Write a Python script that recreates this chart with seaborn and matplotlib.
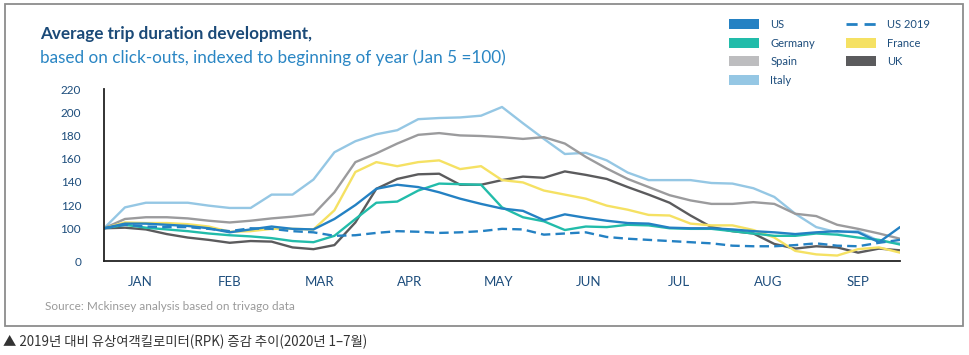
import numpy as np
import pandas as pd
import seaborn as sns
from matplotlib import pyplot as plt
from matplotlib.patches import Patch, Rectangle
from matplotlib.lines import Line2D

# weekly samples, days since Jan 5 (index = 100 on Jan 5)
days = [7 * i for i in range(39)]

us = [100, 104, 104, 103, 102, 100, 96.5, 99, 101.5, 99.5,
      99, 108, 120, 134, 137.5, 135.5, 131, 125.5, 121, 117,
      115, 107, 112, 109, 106.5, 104.5, 104, 100.5, 100, 100,
      99, 97.5, 96.5, 95, 96.5, 97.5, 96.5, 88, 101]
germany = [100, 103, 100.5, 99, 97.5, 95.5, 94, 93, 91.5, 89,
           88, 93.5, 108, 122, 123, 132.5, 138.5, 138, 137.5, 118,
           109.5, 106, 98.5, 101.5, 101, 103, 102.5, 100, 99.5, 99.5,
           97.5, 95.5, 93.5, 93.5, 95.5, 94.5, 92, 90, 86]
spain = [100, 108, 109.5, 109.5, 108.5, 106.5, 105, 106.5, 108.5, 110,
         112, 131, 157, 164.5, 173, 180.5, 182, 180, 179.5, 178.5,
         177, 178.5, 173, 161.5, 151.5, 142.5, 135.5, 128.5, 124, 121,
         121, 122.5, 121, 112.5, 110.5, 103, 99.5, 95.5, 91]
italy = [100, 118, 122, 122, 122, 119.5, 117.5, 117.5, 129, 129,
         142, 165.5, 175, 181, 184.5, 194, 195, 195.5, 197, 204.5,
         190.5, 177, 164, 165, 158.5, 148, 141.5, 141.5, 141.5, 139,
         138.5, 134.5, 127, 112.5, 101, 96.5, 97.5, 89, 87]
france = [100, 105, 104.5, 104.5, 103.5, 101.5, 97, 97.5, 99.5, 99.5,
          99, 115.5, 148.5, 157, 153.5, 157, 158.5, 151, 153.5, 141.5,
          139.5, 132.5, 129, 125.5, 119.5, 116, 111.5, 111, 104, 102.5,
          102.5, 98.5, 92, 80.5, 77.5, 76.5, 82, 83.5, 79]
uk = [100, 100.5, 99, 95, 92, 90, 87.5, 89, 88.5, 83.5,
      82, 85.5, 105, 134, 142.5, 146.5, 147, 137.5, 137.5, 141.5,
      144.5, 143.5, 149, 146, 142.5, 135.5, 129, 122, 111, 101,
      97.5, 95.5, 86.5, 82.5, 84.5, 83.5, 79, 82.5, 81]
us_2019 = [100, 103, 101.5, 101, 101, 99.5, 97.5, 100, 99.5, 97.5,
           96.5, 93.5, 94, 96, 97.5, 97, 96, 96.5, 97.5, 99.5,
           99, 94.5, 95.5, 96.5, 92.5, 91, 90, 89, 88, 87,
           85, 84.5, 84.5, 85.5, 87, 85, 84.5, 87.5, 90]

months = ["JAN", "FEB", "MAR", "APR", "MAY", "JUN", "JUL", "AUG", "SEP"]
ytick_vals = [71.8, 100, 120, 140, 160, 180, 200, 220]
ytick_lbls = ["0", "100", "120", "140", "160", "180", "200", "220"]

series = {"US": us, "Germany": germany, "Spain": spain, "Italy": italy,
          "US 2019": us_2019, "France": france, "UK": uk}
colors = {"US": "#2481c3", "Germany": "#22bcaa", "Spain": "#9b9b9d",
          "Italy": "#95c7e4", "US 2019": "#2481c3", "France": "#f5e163",
          "UK": "#5b5b5d"}
legend_colors = dict(colors, Spain="#bdbdbf")

df = pd.concat([pd.DataFrame({"day": days, "value": v, "country": k})
                for k, v in series.items()], ignore_index=True)

sns.set_theme(style="white")
plt.rcParams['font.family'] = ['Lato', 'DejaVu Sans']

navy = "#1d4d7c"
fig = plt.figure(figsize=(9.7, 3.55), dpi=100)
ax = fig.add_axes([104 / 970, 1 - 261 / 355, (900 - 104) / 970, (261 - 89) / 355])

dashes = {k: (4, 2.2) if k == "US 2019" else "" for k in series}
order = ["Italy", "Spain", "UK", "France", "Germany", "US 2019", "US"]
sns.lineplot(data=df, x="day", y="value", hue="country", style="country",
             hue_order=order, style_order=order, palette=colors,
             dashes=dashes, linewidth=1.7, legend=False, ax=ax)

ax.set_xlim(0, 266)
ax.set_ylim(71.8, 220)
ax.set_xticks([12 + 30 * i for i in range(len(months))])
ax.set_xticklabels(months, family=['Liberation Sans Narrow', 'Lato'],
                   fontsize=9.5, color=navy)
ax.set_yticks(ytick_vals)
ax.set_yticklabels(ytick_lbls, fontsize=8.5, color=navy)
ax.tick_params(axis='x', length=0, pad=10.5)
ax.tick_params(axis='y', length=0, pad=16.5)
ax.set_xlabel("")
ax.set_ylabel("")
for s in ["top", "right"]:
    ax.spines[s].set_visible(False)
for s in ["left", "bottom"]:
    ax.spines[s].set_color("#222222")
    ax.spines[s].set_linewidth(1.3)

# titles
fig.text(40 / 970, 1 - 34 / 355, "Average trip duration development,",
         fontsize=12.3, fontweight='bold', color="#1b4a78", va='center')
fig.text(40 / 970, 1 - 58 / 355,
         "based on click-outs, indexed to beginning of year (Jan 5 =100)",
         fontsize=12.3, color="#2a86c4", va='center')

# legend
leg_order = ["US", "Germany", "Spain", "Italy", "US 2019", "France", "UK"]
handles = []
for k in leg_order:
    if k == "US 2019":
        handles.append(Line2D([], [], color=colors[k], lw=2, dashes=(4, 2.5)))
    else:
        handles.append(Patch(facecolor=legend_colors[k], edgecolor='none'))
leg = fig.legend(handles, leg_order, loc='upper left', ncol=2,
                 bbox_to_anchor=(729 / 970, 1 - 19 / 355), frameon=False,
                 fontsize=8, handlelength=2.7, handleheight=1.05,
                 handletextpad=1.0, labelspacing=0.68, columnspacing=2.8,
                 borderpad=0, borderaxespad=0)
for t in leg.get_texts():
    t.set_color(navy)

fig.text(45 / 970, 1 - 306 / 355,
         "Source: Mckinsey analysis based on trivago data",
         fontsize=8.5, color="#9a9a9a", va='center')

# outer frame
fig.patches.append(Rectangle((5 / 970, 1 - 326 / 355), 958 / 970, 322 / 355,
                             transform=fig.transFigure, fill=False,
                             edgecolor="#8c8c8c", lw=1.3))

fig.text(3 / 970, 1 - 342 / 355,
         "▲ 2019년 대비 유상여객킬로미터(RPK) 증감 추이(2020년 1–7월)",
         fontsize=9.6, color="#333333", va='center',
         family=['Noto Sans CJK KR', 'DejaVu Sans'])

fig.savefig("out.png", dpi=100)
